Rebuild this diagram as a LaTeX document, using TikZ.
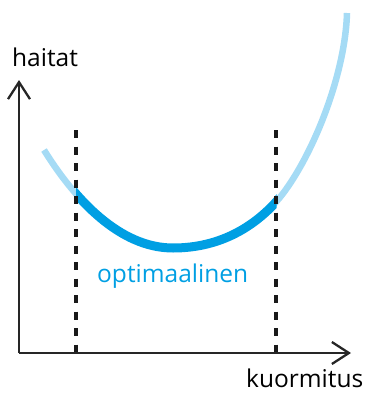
\documentclass[tikz,border=0pt]{standalone}
\usepackage{fontspec}
\setmainfont{Open Sans}
\usetikzlibrary{arrows.meta}
\definecolor{darkb}{HTML}{009FE3}
\definecolor{lightb}{HTML}{A5DBF5}
\begin{document}
\begin{tikzpicture}[x=1pt,y=-1pt,
  axis/.style={line width=2.3pt, draw=black!85, -{Straight Barb[length=17pt,width=22pt,line width=2.3pt]}},
  guide/.style={line width=3.4pt, draw=black!90, dash pattern=on 8pt off 8.5pt},
  lbl/.style={inner sep=0pt, anchor=base west, font=\fontsize{24.5pt}{29pt}\selectfont}]
\useasboundingbox (0,0) rectangle (374,394);
\coordinate (o) at (19,353);
\coordinate (ytop) at (19,80);
\coordinate (xend) at (351,353);
\coordinate (l1) at (76,130);
\coordinate (l2) at (76,353);
\coordinate (r1) at (276,130);
\coordinate (r2) at (276,353);
\def\curve{(44,150) .. controls (75,200) and (120,248) .. (173,248)
  .. controls (222,248) and (255,225) .. (276,202)
  .. controls (308,166) and (345,80) .. (347,13)}
\draw[lightb, line width=6.5pt] \curve;
\begin{scope}
\clip (76,0) rectangle (276.5,394);
\draw[darkb, line width=9pt] \curve;
\end{scope}
\draw[guide] (l1) -- (l2);
\draw[guide] (r1) -- (r2);
\draw[axis] (o) -- (ytop);
\draw[axis] (o) -- (xend);
\node[lbl] (ylab) at (12,66.5) {haitat};
\node[lbl] (xlab) at (246,387.5) {kuormitus};
\node[lbl, text=darkb] (opt) at (97,282) {optimaalinen};
\end{tikzpicture}
\end{document}
